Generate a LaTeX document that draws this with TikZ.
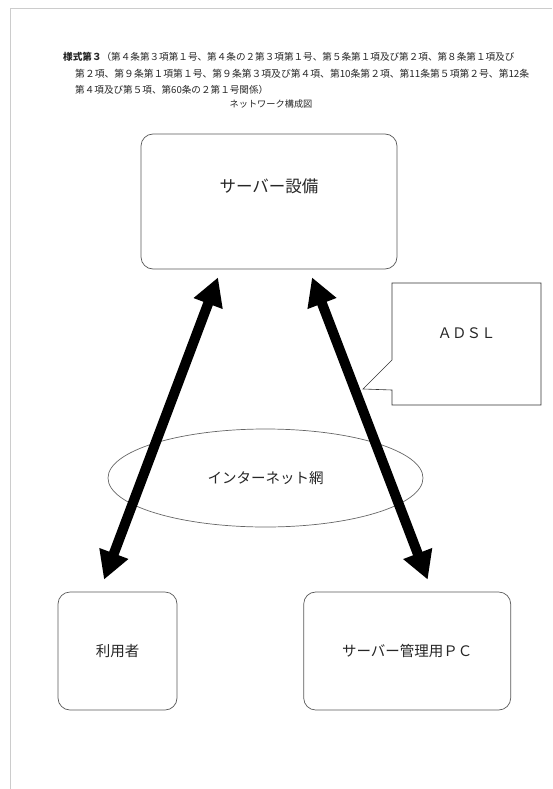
\documentclass[tikz,border=0pt]{standalone}
\usepackage{fontspec}
\setmainfont{Noto Sans CJK JP}
\usepackage{tikz}
\usetikzlibrary{positioning}
\usetikzlibrary{arrows.meta}
\usetikzlibrary{shapes.geometric,shapes.callouts}
\tikzset{netbox/.style={rectangle,rounded corners=12pt,draw=black!65,fill=white,
line width=0.7pt,inner sep=2pt,text=black!85,font=\fontsize{14.5}{17}\selectfont}}
\tikzset{netcloud/.style={ellipse,draw=black!60,line width=0.7pt,inner sep=0pt,
minimum width=315pt,minimum height=98pt,text=black!85,font=\fontsize{14.5}{17}\selectfont}}
\tikzset{linecallout/.style={rectangle callout,draw=black!80,fill=white,line width=0.6pt,
minimum width=149pt,minimum height=122pt,callout pointer width=30pt,
text=black!85,font=\fontsize{14.5}{17}\selectfont}}
\tikzset{hdrline/.style={anchor=west,inner sep=0pt,text=black!85,font=\fontsize{9.6}{11}\selectfont}}
\tikzset{netlink/.style={line width=10pt,{Triangle[length=28pt,width=29pt]}-{Triangle[length=28pt,width=29pt]}}}

\begin{document}
\begin{tikzpicture}[x=1pt,y=-1pt]
    \useasboundingbox (0,0) rectangle (552,789);
    \draw[black!20,line width=1pt] (552,8.5) -- (10.5,8.5) -- (10.5,789);

    \node[hdrline] (hdra) at (63,57) {\textbf{様式第３}（第４条第３項第１号、第４条の２第３項第１号、第５条第１項及び第２項、第８条第１項及び};
    \node[hdrline,font=\fontsize{9.8}{11}\selectfont] (hdrb) at (75,73.5) {第２項、第９条第１項第１号、第９条第３項及び第４項、第10条第２項、第11条第５項第２号、第12条};
    \node[hdrline] (hdrc) at (75,90) {第４項及び第５項、第60条の２第１号関係）};
    \node[hdrline,anchor=center,font=\fontsize{9.2}{11}\selectfont] (title) at (271,104) {ネットワーク構成図};

    \node[netbox,minimum width=256pt,minimum height=135pt,text height=13pt,text depth=31pt,
        font=\fontsize{16.5}{19}\selectfont] (server) at (269,201.5) {サーバー設備};
    \node[netbox,minimum width=119pt,minimum height=118pt] (user) at (117.5,651) {利用者};
    \node[netbox,minimum width=207pt,minimum height=118pt] (admin) [right=126pt of user] {サーバー管理用ＰＣ};

    \node[netcloud] (inet) at (265.5,478) {インターネット網};
    \node[linecallout,callout absolute pointer={(363,389)},text height=12pt,text depth=24pt] (adsl) at (466.5,344) {ＡＤＳＬ};

    \coordinate (srvl) at ([xshift=-51pt,yshift=-8pt]server.south);
    \coordinate (srvr) at ([xshift=43pt,yshift=-8pt]server.south);
    \coordinate (usrt) at ([xshift=-13.5pt,yshift=12pt]user.north);
    \coordinate (admt) at ([xshift=20.5pt,yshift=12pt]admin.north);
    \draw[netlink] (srvl) -- (usrt);
    \draw[netlink] (srvr) -- (admt);

\end{tikzpicture}
\end{document}
